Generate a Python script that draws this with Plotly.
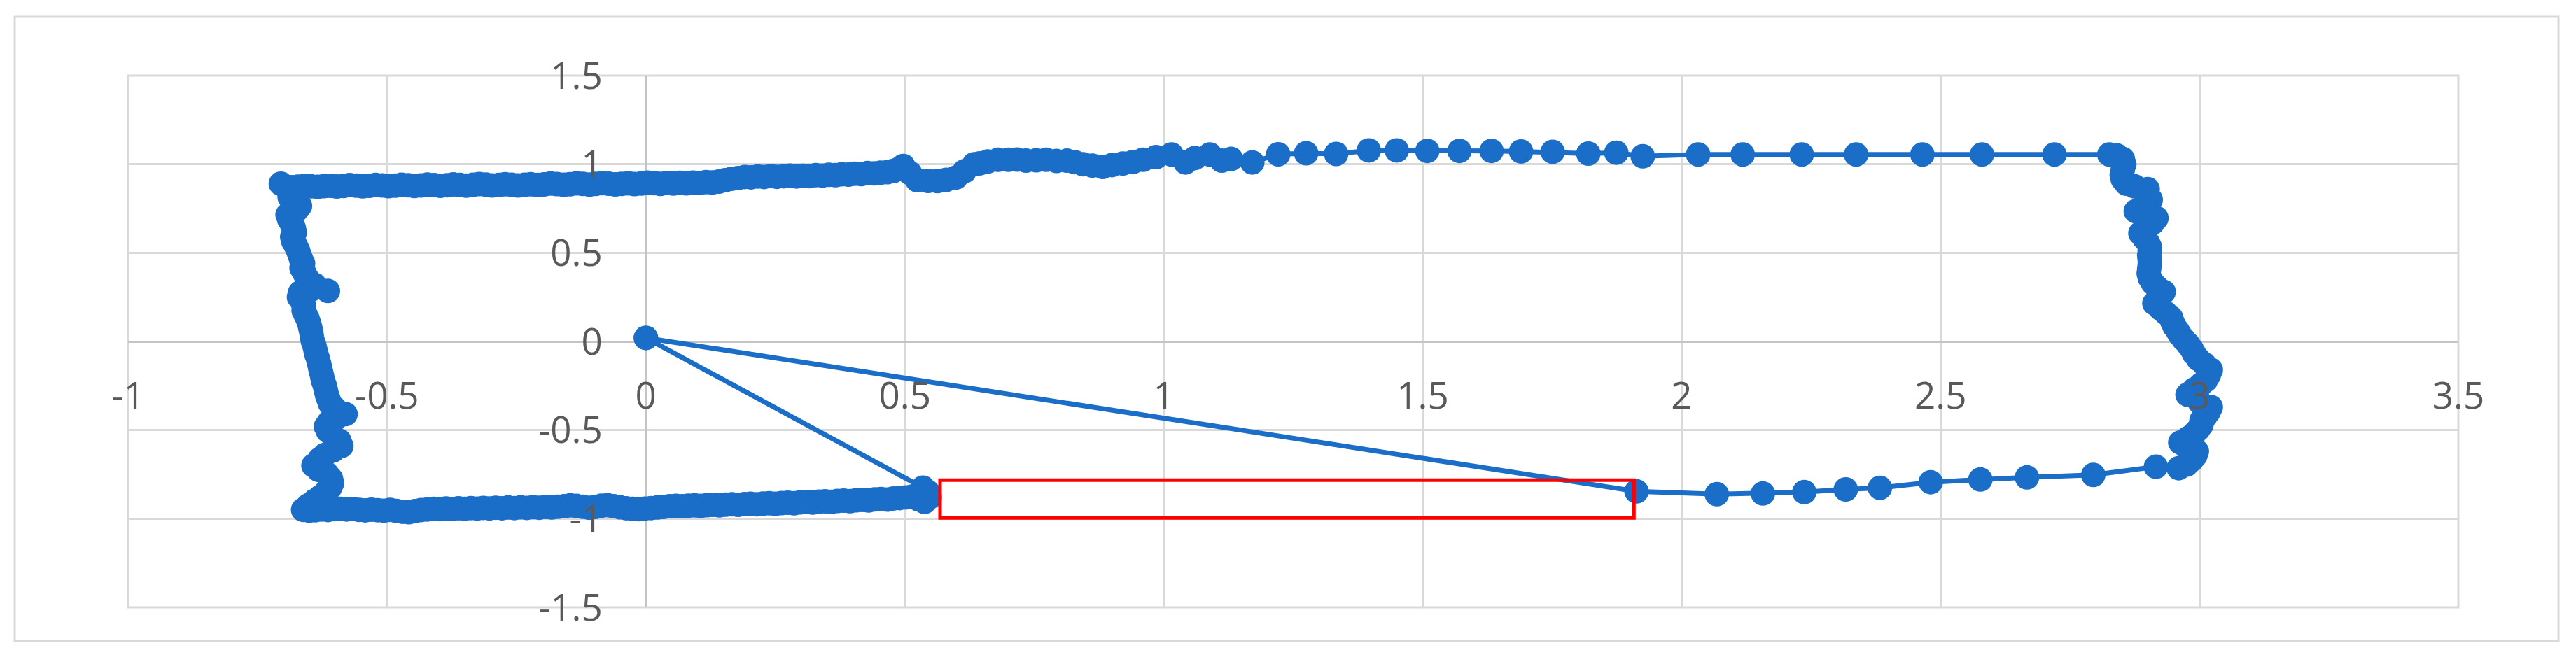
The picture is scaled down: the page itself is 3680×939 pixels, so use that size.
import plotly.graph_objects as go

start_point = [(0.00, 0.02)]

seg_bottom_right = [
    (1.913, -0.846), (2.068, -0.862), (2.157, -0.858), (2.237, -0.850), (2.317, -0.835),
    (2.383, -0.826), (2.481, -0.794), (2.577, -0.779), (2.667, -0.767), (2.795, -0.753),
    (2.916, -0.707),
]

seg_right = [
    (2.960, -0.715), (2.975, -0.695), (2.985, -0.670), (2.992, -0.645), (2.995, -0.620),
    (2.975, -0.595), (2.963, -0.570), (2.978, -0.545), (2.990, -0.520), (2.998, -0.495),
    (3.004, -0.470), (3.004, -0.445), (3.012, -0.420), (3.018, -0.395), (3.022, -0.370),
    (3.000, -0.340), (2.977, -0.300), (2.990, -0.270), (3.002, -0.245), (3.012, -0.220),
    (3.018, -0.190), (3.022, -0.160), (3.010, -0.130), (2.998, -0.100), (2.990, -0.070),
    (2.985, -0.043), (2.978, -0.015), (2.970, 0.010), (2.963, 0.035), (2.958, 0.060),
    (2.952, 0.085), (2.948, 0.110), (2.945, 0.135), (2.935, 0.160), (2.925, 0.185),
    (2.913, 0.215), (2.922, 0.245), (2.931, 0.280), (2.918, 0.305), (2.910, 0.330),
    (2.904, 0.360), (2.902, 0.385), (2.903, 0.410), (2.904, 0.435), (2.904, 0.460),
    (2.903, 0.485), (2.904, 0.510), (2.904, 0.535), (2.900, 0.560), (2.893, 0.585),
    (2.886, 0.610), (2.895, 0.640), (2.910, 0.670), (2.917, 0.696), (2.895, 0.715),
    (2.877, 0.735), (2.892, 0.765), (2.906, 0.800), (2.900, 0.830), (2.900, 0.860),
    (2.875, 0.875), (2.859, 0.890), (2.852, 0.915), (2.850, 0.940), (2.852, 0.970),
    (2.855, 1.000), (2.852, 1.030), (2.840, 1.050),
]

seg_top_right = [
    (2.826, 1.055), (2.720, 1.055), (2.580, 1.055), (2.465, 1.055), (2.337, 1.055),
    (2.232, 1.055), (2.118, 1.055), (2.032, 1.055), (1.925, 1.045), (1.874, 1.065),
    (1.820, 1.060), (1.751, 1.070), (1.690, 1.072), (1.633, 1.075), (1.571, 1.075),
    (1.509, 1.075), (1.450, 1.078), (1.396, 1.078), (1.333, 1.058), (1.275, 1.062),
    (1.221, 1.056), (1.171, 1.010), (1.130, 1.030), (1.112, 1.020), (1.089, 1.055),
    (1.060, 1.035), (1.042, 1.010), (1.015, 1.055), (0.985, 1.040), (0.960, 1.025),
    (0.940, 1.012), (0.921, 1.004), (0.900, 0.995), (0.882, 0.985), (0.862, 0.992),
    (0.844, 1.000), (0.828, 1.012), (0.813, 1.020), (0.793, 1.018), (0.773, 1.025),
    (0.754, 1.022), (0.734, 1.020), (0.717, 1.026), (0.700, 1.025), (0.680, 1.025),
    (0.660, 1.015), (0.645, 1.005), (0.634, 1.000), (0.615, 0.960), (0.599, 0.925),
    (0.580, 0.912), (0.563, 0.905), (0.545, 0.906), (0.524, 0.910), (0.510, 0.950),
    (0.497, 0.990),
]

seg_top_left = [
    (0.490, 0.975), (0.478, 0.962), (0.466, 0.955), (0.453, 0.952), (0.441, 0.948),
    (0.428, 0.950), (0.416, 0.944), (0.403, 0.946), (0.391, 0.941), (0.378, 0.943),
    (0.366, 0.938), (0.353, 0.940), (0.341, 0.936), (0.328, 0.938), (0.316, 0.933),
    (0.303, 0.935), (0.291, 0.931), (0.278, 0.936), (0.266, 0.932), (0.253, 0.929),
    (0.241, 0.933), (0.228, 0.928), (0.216, 0.931), (0.203, 0.926), (0.191, 0.928),
    (0.178, 0.922), (0.166, 0.918), (0.153, 0.910), (0.141, 0.902), (0.128, 0.897),
    (0.116, 0.899), (0.103, 0.894), (0.091, 0.896), (0.078, 0.892), (0.066, 0.895),
    (0.053, 0.891), (0.041, 0.894), (0.028, 0.889), (0.016, 0.893), (0.003, 0.896),
    (-0.009, 0.891), (-0.022, 0.888), (-0.034, 0.892), (-0.047, 0.889), (-0.059, 0.886),
    (-0.072, 0.890), (-0.084, 0.893), (-0.097, 0.889), (-0.109, 0.885), (-0.122, 0.889),
    (-0.134, 0.892), (-0.147, 0.887), (-0.159, 0.884), (-0.172, 0.888), (-0.184, 0.891),
    (-0.197, 0.886), (-0.209, 0.883), (-0.222, 0.887), (-0.234, 0.884), (-0.247, 0.880),
    (-0.259, 0.884), (-0.272, 0.887), (-0.284, 0.883), (-0.297, 0.880), (-0.309, 0.885),
    (-0.322, 0.888), (-0.334, 0.884), (-0.347, 0.879), (-0.359, 0.883), (-0.372, 0.886),
    (-0.384, 0.881), (-0.397, 0.878), (-0.409, 0.882), (-0.422, 0.885), (-0.434, 0.880),
    (-0.447, 0.877), (-0.459, 0.881), (-0.472, 0.884), (-0.484, 0.879), (-0.497, 0.876),
    (-0.509, 0.880), (-0.522, 0.883), (-0.534, 0.878), (-0.547, 0.875), (-0.559, 0.879),
    (-0.572, 0.882), (-0.584, 0.877), (-0.597, 0.874), (-0.609, 0.878), (-0.622, 0.876),
    (-0.634, 0.872), (-0.647, 0.875), (-0.659, 0.878), (-0.672, 0.873), (-0.684, 0.870),
    (-0.696, 0.874), (-0.705, 0.890),
]

seg_left = [
    (-0.690, 0.865), (-0.682, 0.840), (-0.688, 0.815), (-0.680, 0.790), (-0.668, 0.765),
    (-0.675, 0.740), (-0.692, 0.715), (-0.689, 0.690), (-0.684, 0.665), (-0.680, 0.640),
    (-0.678, 0.615), (-0.683, 0.590), (-0.681, 0.565), (-0.676, 0.540), (-0.672, 0.515),
    (-0.669, 0.490), (-0.666, 0.465), (-0.662, 0.440), (-0.665, 0.415), (-0.660, 0.390),
    (-0.656, 0.365), (-0.652, 0.345), (-0.640, 0.320), (-0.614, 0.285), (-0.648, 0.290),
    (-0.668, 0.275), (-0.670, 0.250), (-0.664, 0.225), (-0.660, 0.200), (-0.661, 0.175),
    (-0.657, 0.150), (-0.653, 0.125), (-0.650, 0.100), (-0.648, 0.075), (-0.646, 0.050),
    (-0.645, 0.025), (-0.643, 0.000), (-0.640, -0.025), (-0.638, -0.050), (-0.636, -0.075),
    (-0.633, -0.100), (-0.631, -0.125), (-0.629, -0.150), (-0.627, -0.175), (-0.625, -0.200),
    (-0.623, -0.225), (-0.620, -0.250), (-0.618, -0.275), (-0.616, -0.300), (-0.613, -0.325),
    (-0.610, -0.350), (-0.600, -0.380), (-0.580, -0.410), (-0.598, -0.430), (-0.612, -0.455),
    (-0.618, -0.480), (-0.614, -0.505), (-0.605, -0.530), (-0.592, -0.560), (-0.588, -0.590),
    (-0.604, -0.615), (-0.620, -0.640), (-0.630, -0.665), (-0.642, -0.700), (-0.632, -0.725),
    (-0.615, -0.750), (-0.608, -0.775), (-0.606, -0.800), (-0.610, -0.825), (-0.618, -0.850),
    (-0.628, -0.875), (-0.640, -0.900), (-0.652, -0.925), (-0.662, -0.950),
]

seg_bottom_left = [
    (-0.650, -0.955), (-0.638, -0.952), (-0.626, -0.948), (-0.614, -0.951), (-0.602, -0.946),
    (-0.590, -0.944), (-0.578, -0.948), (-0.566, -0.945), (-0.554, -0.950), (-0.542, -0.953),
    (-0.530, -0.949), (-0.518, -0.952), (-0.506, -0.955), (-0.494, -0.950), (-0.482, -0.956),
    (-0.470, -0.961), (-0.458, -0.963), (-0.446, -0.957), (-0.434, -0.951), (-0.422, -0.948),
    (-0.410, -0.944), (-0.398, -0.946), (-0.386, -0.942), (-0.374, -0.945), (-0.362, -0.941),
    (-0.350, -0.944), (-0.338, -0.940), (-0.326, -0.943), (-0.314, -0.939), (-0.302, -0.942),
    (-0.290, -0.938), (-0.278, -0.941), (-0.266, -0.937), (-0.254, -0.940), (-0.242, -0.936),
    (-0.230, -0.939), (-0.218, -0.935), (-0.206, -0.938), (-0.194, -0.934), (-0.182, -0.937),
    (-0.170, -0.933), (-0.158, -0.930), (-0.146, -0.925), (-0.134, -0.928), (-0.122, -0.933),
    (-0.110, -0.938), (-0.098, -0.934), (-0.086, -0.927), (-0.074, -0.924), (-0.062, -0.930),
    (-0.050, -0.936), (-0.038, -0.941), (-0.026, -0.944), (-0.014, -0.946), (-0.002, -0.943),
    (0.010, -0.940), (0.022, -0.937), (0.034, -0.934), (0.046, -0.930), (0.058, -0.928),
    (0.070, -0.930), (0.082, -0.927), (0.094, -0.925), (0.106, -0.928), (0.118, -0.924),
    (0.130, -0.922), (0.142, -0.925), (0.154, -0.921), (0.166, -0.919), (0.178, -0.922),
    (0.190, -0.918), (0.202, -0.916), (0.214, -0.919), (0.226, -0.915), (0.238, -0.913),
    (0.250, -0.916), (0.262, -0.912), (0.274, -0.910), (0.286, -0.913), (0.298, -0.908),
    (0.310, -0.906), (0.322, -0.909), (0.334, -0.904), (0.346, -0.902), (0.358, -0.905),
    (0.370, -0.900), (0.382, -0.898), (0.394, -0.901), (0.406, -0.896), (0.418, -0.894),
    (0.430, -0.897), (0.442, -0.891), (0.454, -0.889), (0.466, -0.892), (0.478, -0.886),
    (0.490, -0.884), (0.502, -0.880), (0.514, -0.875), (0.526, -0.890), (0.538, -0.905),
    (0.548, -0.880), (0.545, -0.850), (0.535, -0.825),
]

end_point = [(0.00, 0.02)]

x_ticks = [-1, -0.5, 0, 0.5, 1, 1.5, 2, 2.5, 3, 3.5]
x_tick_labels = ["-1", "-0.5", "0", "0.5", "1", "1.5", "2", "2.5", "3", "3.5"]
y_ticks = [-1.5, -1, -0.5, 0, 0.5, 1, 1.5]
y_tick_labels = ["-1.5", "-1", "-0.5", "0", "0.5", "1", "1.5"]

# highlighted gap region (data coordinates)
gap_x = [0.568, 1.908]
gap_y = [-0.996, -0.783]

x_range = [-1, 3.5]
y_range = [-1.5, 1.5]

path = (start_point + seg_bottom_right + seg_right + seg_top_right + seg_top_left
        + seg_left + seg_bottom_left + end_point)
path_x = [p[0] for p in path]
path_y = [p[1] for p in path]

BLUE = "#1b6ec8"
GRID = "#d9d9d9"
FONT = dict(family="Open Sans", size=53, color="#595959")

fig = go.Figure()
fig.add_trace(go.Scatter(
    x=path_x, y=path_y, mode="lines+markers",
    line=dict(color=BLUE, width=7),
    marker=dict(color=BLUE, size=35, line=dict(width=0)),
    showlegend=False, hoverinfo="x+y",
))

# page body adds an 8px margin, so the figure is placed 8px in from the page corner
W, H = 3664, 923
L, T = 175, 100
R, B = 160, 63
pw, ph = W - L - R, H - T - B

fig.update_layout(
    width=W, height=H,
    margin=dict(l=L, r=R, t=T, b=B),
    paper_bgcolor="white", plot_bgcolor="white",
    font=FONT,
    showlegend=False,
)
fig.update_xaxes(
    range=x_range, tickvals=x_ticks, ticktext=x_tick_labels,
    showgrid=True, gridcolor=GRID, gridwidth=3,
    zeroline=True, zerolinecolor="#c4c4c4", zerolinewidth=3,
    showline=False, ticks="", anchor="free",
    position=(0 - y_range[0]) / (y_range[1] - y_range[0]),
    ticklabelstandoff=42, automargin=False, tickfont=FONT,
)
fig.update_yaxes(
    range=y_range, tickvals=y_ticks, ticktext=y_tick_labels,
    showgrid=True, gridcolor=GRID, gridwidth=3,
    zeroline=True, zerolinecolor="#c4c4c4", zerolinewidth=3,
    showline=False, ticks="", anchor="free",
    position=(0 - x_range[0]) / (x_range[1] - x_range[0]),
    ticklabelstandoff=62, automargin=False, tickfont=FONT,
)

# plot-area frame
fig.add_shape(type="rect", xref="paper", yref="paper", x0=0, x1=1, y0=0, y1=1,
              line=dict(color=GRID, width=3), layer="below")
# outer chart border
fig.add_shape(type="rect", xref="paper", yref="paper",
              x0=(13 - L) / pw, x1=(3647 - L) / pw,
              y0=(H - B - 908) / ph, y1=(H - B - 16) / ph,
              line=dict(color=GRID, width=3), layer="below")
# red highlight box
fig.add_shape(type="rect", xref="x", yref="y",
              x0=gap_x[0], x1=gap_x[1], y0=gap_y[0], y1=gap_y[1],
              line=dict(color="#ff0000", width=5), layer="above")

fig.write_html("out.html")
